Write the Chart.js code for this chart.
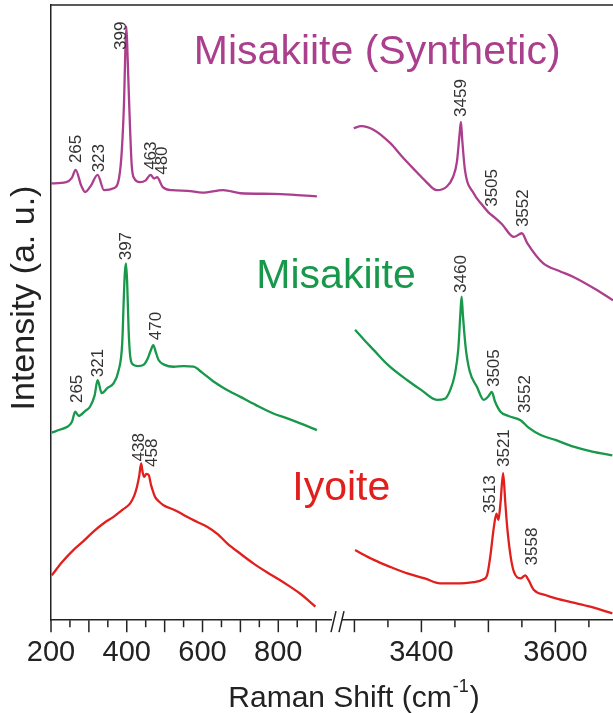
<!DOCTYPE html>
<html>
<head>
<meta charset="utf-8">
<script src="https://cdn.jsdelivr.net/npm/chart.js@4.4.0/dist/chart.umd.min.js"></script>
<style>
    html, body { margin: 0; padding: 0; background: #fff; overflow: hidden; }
    #wrap { width: 613px; height: 713px; }
</style>
</head>
<body>
<div id="wrap"><canvas id="myChart"></canvas></div>
<script>
// Raman shift (cm-1) / intensity (a.u., spectra offset)
const synLowShift = [200, 240, 255, 265, 280, 290, 305, 323, 340, 365, 380, 387, 393, 396, 399, 402, 406, 413, 420, 435, 450, 463, 472, 480, 495, 520, 560, 600, 655, 700, 787, 850, 902];
const synLowInt = [71.0, 71.2, 71.9, 73.2, 70.6, 69.6, 70.6, 72.4, 69.9, 70.2, 72.0, 76.4, 84.6, 92.0, 96.5, 92.0, 84.6, 74.0, 71.8, 71.2, 71.5, 72.4, 71.8, 72.0, 70.4, 69.9, 69.8, 69.5, 69.9, 69.4, 69.3, 69.1, 68.9];
const synHighShift = [3299, 3310, 3329, 3354, 3370, 3388, 3405, 3423, 3438, 3447, 3453, 3457, 3459, 3461, 3465, 3478, 3490, 3500, 3510, 3520, 3538, 3550, 3558, 3582, 3605, 3627, 3660, 3686];
const synHighInt = [80.0, 80.3, 79.7, 77.5, 75.5, 73.4, 71.5, 69.9, 70.5, 72.0, 74.5, 79.0, 81.0, 78.0, 73.2, 69.4, 67.6, 66.3, 65.4, 64.4, 62.3, 62.9, 61.3, 58.0, 56.8, 55.8, 53.8, 52.0];

const misLowShift = [202, 225, 242, 255, 264, 273, 290, 303, 315, 323, 334, 350, 365, 378, 388, 392, 395, 398, 401, 405, 410, 418, 430, 444, 455, 463, 470, 477, 484, 500, 523, 550, 576, 600, 629, 660, 700, 740, 787, 820, 858, 902];
const misLowInt = [30.5, 31.0, 31.4, 32.2, 33.9, 33.2, 34.0, 34.7, 36.5, 39.0, 36.9, 37.8, 38.5, 40.5, 45.0, 52.0, 56.5, 58.0, 55.0, 47.0, 42.5, 41.5, 41.3, 41.5, 42.5, 43.8, 44.7, 43.5, 42.3, 41.5, 41.2, 41.3, 41.2, 40.2, 38.8, 37.6, 36.3, 35.0, 33.6, 32.9, 32.0, 30.9];
const misHighShift = [3301, 3315, 3329, 3350, 3379, 3400, 3423, 3435, 3443, 3450, 3455, 3458, 3460, 3462, 3466, 3472, 3483, 3493, 3500, 3505, 3510, 3518, 3530, 3548, 3560, 3578, 3600, 3627, 3655, 3685];
const misHighInt = [47.2, 45.5, 43.9, 41.5, 39.0, 37.4, 35.8, 36.0, 37.4, 40.0, 44.0, 49.5, 52.6, 49.5, 44.4, 40.5, 37.9, 35.8, 36.4, 37.1, 35.5, 33.9, 33.2, 32.5, 31.3, 30.1, 29.3, 28.2, 27.4, 26.8];

const iyoLowShift = [202, 230, 259, 285, 312, 340, 365, 390, 409, 420, 427, 433, 438, 442, 446, 452, 458, 464, 470, 475, 485, 497, 530, 559, 585, 612, 640, 665, 700, 735, 770, 805, 830, 858, 880, 898];
const iyoLowInt = [7.3, 9.5, 11.4, 12.8, 14.4, 15.8, 16.8, 18.0, 19.0, 20.3, 21.7, 23.5, 25.5, 24.0, 23.3, 23.8, 23.6, 22.0, 20.8, 20.0, 19.3, 18.7, 17.8, 16.8, 16.0, 15.2, 14.0, 12.5, 10.8, 9.2, 7.8, 6.5, 5.5, 4.3, 3.2, 2.2];
const iyoHighShift = [3301, 3329, 3355, 3379, 3405, 3428, 3450, 3478, 3492, 3498, 3503, 3508, 3512, 3515, 3518, 3522, 3525, 3528, 3533, 3538, 3548, 3555, 3560, 3568, 3585, 3602, 3625, 3652, 3685];
const iyoHighInt = [11.4, 9.8, 8.6, 7.6, 6.8, 6.0, 6.0, 6.2, 6.6, 7.3, 10.5, 15.0, 17.3, 16.3, 19.0, 23.9, 19.5, 15.2, 10.5, 7.9, 6.8, 7.3, 6.5, 4.9, 4.1, 3.5, 2.9, 2.2, 1.1];

const lowTickLabels = [200, 400, 600, 800];
const highTickLabels = [3400, 3600];

const purple = '#ac3f8d';
const green = '#17984a';
const red = '#e11f1c';

// peak labels: axis, label x, label bottom (intensity), text
const peakLabels = [
    ['x1', 265, 74.3, '265'], ['x1', 325, 72.8, '323'], ['x1', 384, 92.7, '399'],
    ['x1', 462, 73.2, '463'], ['x1', 492, 72.4, '480'],
    ['x2', 3458, 81.8, '3459'], ['x2', 3505, 67.2, '3505'], ['x2', 3550, 63.9, '3552'],
    ['x1', 266, 35.3, '265'], ['x1', 323, 39.5, '321'], ['x1', 396, 58.5, '397'], ['x1', 475, 45.5, '470'],
    ['x2', 3458, 53.2, '3460'], ['x2', 3508, 37.9, '3505'], ['x2', 3553, 33.7, '3552'],
    ['x1', 431, 25.8, '438'], ['x1', 466, 24.9, '458'],
    ['x2', 3502, 17.4, '3513'], ['x2', 3523, 24.9, '3521'], ['x2', 3564, 8.9, '3558']
];
const nameLabels = [
    [577, 90.4, 'Misakiite (Synthetic)', purple],
    [742, 54.0, 'Misakiite', green],
    [837, 19.5, 'Iyoite', red]
];

function pts(xs, ys) {
    return xs.map((x, i) => ({ x: x, y: ys[i] }));
}

function spectrum(xs, ys, color, axis) {
    return {
        data: pts(xs, ys),
        xAxisID: axis,
        yAxisID: 'y',
        borderColor: color,
        borderWidth: 2.3,
        pointRadius: 0,
        cubicInterpolationMode: 'monotone'
    };
}

const decor = {
    id: 'decor',
    afterDraw(chart) {
        const { ctx, chartArea: a, scales } = chart;
        const x1 = scales.x1, x2 = scales.x2, y = scales.y;
        ctx.save();
        ctx.strokeStyle = '#222';
        ctx.lineWidth = 1.5;

        // top frame
        ctx.beginPath();
        ctx.moveTo(a.left, a.top);
        ctx.lineTo(a.right, a.top);
        ctx.stroke();

        // tick marks, long every 100, short every 50
        [[x1, 900], [x2, 3650]].forEach(([s, last]) => {
            s.ticks.forEach(t => {
                if (t.value % 50 !== 0 || t.value > last || t.value < s.min) return;
                const px = s.getPixelForValue(t.value);
                const len = t.value % 100 === 0 ? 12 : 7;
                ctx.beginPath();
                ctx.moveTo(px, a.bottom);
                ctx.lineTo(px, a.bottom + len);
                ctx.stroke();
            });
        });

        // axis break
        const bx = x1.right;
        ctx.fillStyle = '#fff';
        ctx.fillRect(bx - 5, a.bottom - 3, 10, 6);
        ctx.beginPath();
        ctx.moveTo(bx - 6, a.bottom + 12);
        ctx.lineTo(bx - 1, a.bottom - 9);
        ctx.moveTo(bx + 2, a.bottom + 12);
        ctx.lineTo(bx + 7, a.bottom - 9);
        ctx.stroke();

        // peak positions
        ctx.fillStyle = '#333';
        ctx.font = '17px "Liberation Sans", Arial, sans-serif';
        ctx.textAlign = 'left';
        ctx.textBaseline = 'middle';
        peakLabels.forEach(([ax, xv, yv, txt]) => {
            ctx.save();
            ctx.translate(scales[ax].getPixelForValue(xv), y.getPixelForValue(yv));
            ctx.rotate(-Math.PI / 2);
            ctx.fillText(txt, 0, 1);
            ctx.restore();
        });

        // sample names
        ctx.font = '41px "Liberation Sans", Arial, sans-serif';
        ctx.textBaseline = 'alphabetic';
        nameLabels.forEach(([xv, yv, txt, col]) => {
            ctx.fillStyle = col;
            ctx.fillText(txt, x1.getPixelForValue(xv), y.getPixelForValue(yv));
        });

        // axis titles
        ctx.fillStyle = '#222';
        ctx.font = '30px "Liberation Sans", Arial, sans-serif';
        ctx.textAlign = 'center';
        ctx.fillText('Raman Shift (cm', 340, 707);
        const w = ctx.measureText('Raman Shift (cm').width;
        ctx.font = '18px "Liberation Sans", Arial, sans-serif';
        ctx.textAlign = 'left';
        ctx.fillText('-1', 340 + w / 2 + 1, 692);
        const w2 = ctx.measureText('-1').width;
        ctx.font = '30px "Liberation Sans", Arial, sans-serif';
        ctx.fillText(')', 340 + w / 2 + w2 + 2, 707);

        ctx.save();
        ctx.translate(34, 298);
        ctx.rotate(-Math.PI / 2);
        ctx.textAlign = 'center';
        ctx.font = '34px "Liberation Sans", Arial, sans-serif';
        ctx.fillText('Intensity (a. u.)', 0, 0);
        ctx.restore();

        ctx.restore();
    }
};

const tickFont = { family: '"Liberation Sans", Arial, sans-serif', size: 29 };

function xAxis(min, max, weight, labels) {
    return {
        type: 'linear',
        axis: 'x',
        position: 'bottom',
        stack: 'raman',
        stackWeight: weight,
        min: min,
        max: max,
        grid: { display: false, drawTicks: true, tickLength: 15 },
        border: { color: '#222', width: 1.5 },
        ticks: {
            stepSize: 50,
            includeBounds: false,
            autoSkip: false,
            maxRotation: 0,
            padding: 0,
            color: '#222',
            font: tickFont,
            callback: v => labels.includes(v) ? String(v) : ''
        }
    };
}

const ctx = document.getElementById('myChart').getContext('2d');
const chart = new Chart(ctx, {
    type: 'line',
    data: {
        datasets: [
            spectrum(synLowShift, synLowInt, purple, 'x1'),
            spectrum(synHighShift, synHighInt, purple, 'x2'),
            spectrum(misLowShift, misLowInt, green, 'x1'),
            spectrum(misHighShift, misHighInt, green, 'x2'),
            spectrum(iyoLowShift, iyoLowInt, red, 'x1'),
            spectrum(iyoHighShift, iyoHighInt, red, 'x2')
        ]
    },
    options: {
        responsive: true,
        maintainAspectRatio: false,
        animation: false,
        layout: { padding: { left: 51, top: 5, right: 0, bottom: 43 } },
        plugins: {
            legend: { display: false },
            tooltip: { enabled: false }
        },
        scales: {
            x1: xAxis(200, 955, 286, lowTickLabels),
            x2: xAxis(3274, 3686, 276, highTickLabels),
            y: {
                type: 'linear',
                position: 'left',
                min: 0,
                max: 100,
                grid: { display: false, drawTicks: false },
                border: { color: '#222', width: 1.5 },
                ticks: { display: false }
            }
        }
    },
    plugins: [decor]
});
</script>
</body>
</html>
